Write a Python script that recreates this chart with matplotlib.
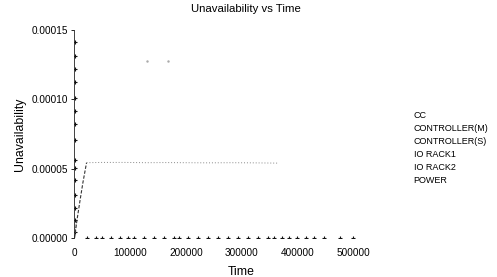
import matplotlib.pyplot as plt

plt.rcParams['font.family'] = ['Liberation Sans', 'DejaVu Sans']

labels = ['CC', 'CONTROLLER(M)', 'CONTROLLER(S)', 'IO RACK1', 'IO RACK2', 'POWER']

# markers stacked on the y axis
cc_t = [0] * 15
cc_u = [0.0000040, 0.000013, 0.0000217, 0.0000312, 0.000042, 0.0000507, 0.0000565, 0.000071,
        0.0000819, 0.0000913, 0.0001007, 0.0001123, 0.0001217, 0.0001312, 0.0001413]

# rise then plateau
ctrl_m_t = [0, 4000, 9000, 15000, 21500]
ctrl_m_u = [0.0, 0.000012, 0.000025, 0.000040, 0.0000543]
ctrl_s_t = [21500, 50000, 90000, 130000, 160000, 200000, 240000, 280000, 320000, 364000]
ctrl_s_u = [0.0000543, 0.0000545, 0.0000545, 0.0000543, 0.0000544, 0.0000543, 0.0000542, 0.0000543, 0.0000542, 0.0000540]

# markers along the time axis
io1_t = [23000, 38000, 50000, 65000, 82000, 95000, 106000, 124000, 142000, 160000, 178000,
         187000, 203000, 221000, 239000, 257000, 275000, 293000, 311000, 329000, 347000, 358000,
         372000, 385000, 399000, 415000, 430000, 448000, 476000, 500000]
io1_u = [0.0] * len(io1_t)

# faint trace high up
io2_t = [130000, 168000]
io2_u = [0.0001275, 0.0001275]

power_t = [0, 1500, 3000]
power_u = [0.0, 0.000006, 0.000011]

fig = plt.figure(figsize=(4.97, 2.77), dpi=100)
ax = fig.add_axes([74 / 497, 39 / 277, 335 / 497, 208 / 277])

ax.plot(cc_t, cc_u, color='#111111', ls='none', marker='+', ms=3.5, mew=0.8, label=labels[0])
ax.plot(ctrl_m_t, ctrl_m_u, color='#333333', lw=0.8, ls=(0, (3, 1.5)), label=labels[1])
ax.plot(ctrl_s_t, ctrl_s_u, color='#888888', lw=0.7, ls=(0, (1, 2)), label=labels[2])
ax.plot(io1_t, io1_u, color='#111111', ls=(0, (2, 3)), lw=0.5, marker='+', ms=3.5, mew=0.8,
        label=labels[3])
ax.plot(io2_t, io2_u, color='#aaaaaa', ls='none', marker='.', ms=1.5, label=labels[4])
ax.plot(power_t, power_u, color='#555555', lw=0.6, ls=(0, (1, 1)), label=labels[5])

ax.set_xlim(-1000, 600000)
ax.set_ylim(0, 0.00015)
ax.set_xticks([0, 100000, 200000, 300000, 400000, 500000])
ax.set_xticklabels(['0', '100000', '200000', '300000', '400000', '500000'])
ax.set_yticks([0, 0.00005, 0.00010, 0.00015])
ax.set_yticklabels(['0.00000', '0.00005', '0.00010', '0.00015'])
ax.tick_params(axis='x', length=0, labelsize=7.2, pad=7)
ax.tick_params(axis='y', length=2, width=0.6, labelsize=7.2, pad=2)

for s in ['top', 'right', 'bottom']:
    ax.spines[s].set_visible(False)
ax.spines['left'].set_linewidth(0.6)
ax.spines['left'].set_color('#222222')

ax.set_xlabel('Time', fontsize=8.8, labelpad=6)
ax.set_ylabel('Unavailability', fontsize=8.8, labelpad=4)
fig.suptitle('Unavailability vs Time', fontsize=8.2, x=0.495, y=0.985)

leg = ax.legend(loc='upper left', bbox_to_anchor=(409 / 497, 1 - 106 / 277),
                bbox_transform=fig.transFigure, frameon=False, fontsize=6.5,
                handlelength=0, handletextpad=0, labelspacing=0.45, borderpad=0)
for h in leg.legend_handles:
    h.set_visible(False)

fig.savefig('out.png', dpi=100)
